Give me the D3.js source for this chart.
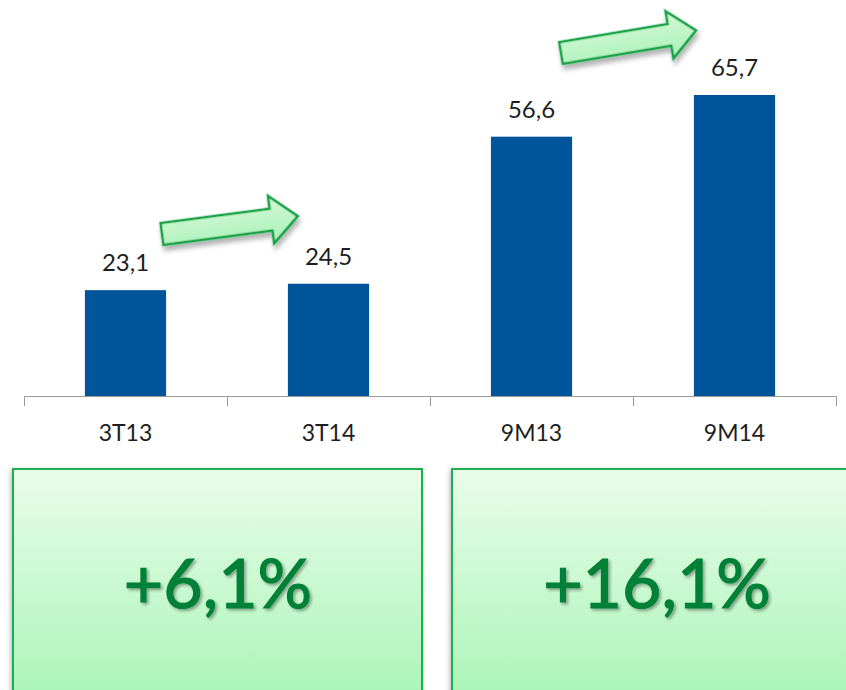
<!DOCTYPE html>
<html>
<head>
<meta charset="utf-8">
<script src="https://cdn.jsdelivr.net/npm/d3@7"></script>
<style>
  body { margin: 0; background: #fff; }
  svg { display: block; font-family: Lato, "Open Sans", sans-serif; }
</style>
</head>
<body>
<svg></svg>
<script>
var categories = ["3T13", "3T14", "9M13", "9M14"];
var values = [23.1, 24.5, 56.6, 65.7];
var valueLabels = ["23,1", "24,5", "56,6", "65,7"];
var growthLabels = ["+6,1%", "+16,1%"];

var svgWidth = 846, svgHeight = 690;
var baseY = 396;

var svg = d3.select("svg")
    .attr("width", svgWidth)
    .attr("height", svgHeight);

var defs = svg.append("defs");

// gradients + shadows
var boxGrad = defs.append("linearGradient").attr("id", "boxGrad")
    .attr("x1", 0).attr("y1", 0).attr("x2", 0).attr("y2", 1);
boxGrad.append("stop").attr("offset", "0%").attr("stop-color", "#e9fde9");
boxGrad.append("stop").attr("offset", "100%").attr("stop-color", "#a2f3b2");

var arrowGrad = defs.append("linearGradient").attr("id", "arrowGrad")
    .attr("x1", 0).attr("y1", 0).attr("x2", 0).attr("y2", 1);
arrowGrad.append("stop").attr("offset", "0%").attr("stop-color", "#d4f9d6");
arrowGrad.append("stop").attr("offset", "100%").attr("stop-color", "#a8f0b6");

defs.append("filter").attr("id", "boxShadow")
    .attr("x", "-10%").attr("y", "-10%").attr("width", "120%").attr("height", "130%")
  .append("feDropShadow")
    .attr("dx", -1).attr("dy", 2).attr("stdDeviation", 2.5)
    .attr("flood-color", "#000").attr("flood-opacity", 0.3);

defs.append("filter").attr("id", "arrowShadow")
    .attr("x", "-20%").attr("y", "-40%").attr("width", "140%").attr("height", "200%")
  .append("feDropShadow")
    .attr("dx", 1).attr("dy", 5).attr("stdDeviation", 2.5)
    .attr("flood-color", "#000").attr("flood-opacity", 0.3);

defs.append("filter").attr("id", "textShadow")
    .attr("x", "-10%").attr("y", "-10%").attr("width", "130%").attr("height", "140%")
  .append("feDropShadow")
    .attr("dx", 2).attr("dy", 2).attr("stdDeviation", 1.5)
    .attr("flood-color", "#000").attr("flood-opacity", 0.35);

// scales
var xBand = d3.scaleBand()
    .domain(categories)
    .range([24, 836])
    .paddingInner(0.6)
    .paddingOuter(0.3);

var xTick = d3.scaleBand()
    .domain(categories)
    .range([24, 836])
    .padding(0);

var y = d3.scaleLinear()
    .domain([0, 65.7])
    .range([baseY, 95]);

// bars
svg.selectAll("rect.bar")
    .data(values)
    .enter()
    .append("rect")
    .attr("class", "bar")
    .attr("x", function(d, i) { return xBand(categories[i]); })
    .attr("y", function(d) { return y(d); })
    .attr("width", xBand.bandwidth())
    .attr("height", function(d) { return baseY - y(d); })
    .attr("fill", "#00549a");

// value labels
svg.selectAll("text.val")
    .data(values)
    .enter()
    .append("text")
    .attr("class", "val")
    .attr("x", function(d, i) { return xBand(categories[i]) + xBand.bandwidth() / 2; })
    .attr("y", function(d) { return y(d) - 19; })
    .attr("text-anchor", "middle")
    .attr("font-size", 24)
    .attr("fill", "#1e1e1e")
    .text(function(d, i) { return valueLabels[i]; });

// axis line + ticks at band edges
var axisG = svg.append("g");
axisG.append("line")
    .attr("x1", xTick.range()[0]).attr("x2", xTick.range()[1])
    .attr("y1", baseY + 0.5).attr("y2", baseY + 0.5)
    .attr("stroke", "#9a9a9a");

var edges = categories.map(function(c) { return xTick(c); }).concat([xTick.range()[1]]);
axisG.selectAll("line.tick")
    .data(edges)
    .enter()
    .append("line")
    .attr("class", "tick")
    .attr("x1", function(d) { return Math.round(d) + 0.5; })
    .attr("x2", function(d) { return Math.round(d) + 0.5; })
    .attr("y1", baseY).attr("y2", baseY + 10)
    .attr("stroke", "#9a9a9a");

axisG.selectAll("text.cat")
    .data(categories)
    .enter()
    .append("text")
    .attr("class", "cat")
    .attr("x", function(d) { return xTick(d) + xTick.bandwidth() / 2; })
    .attr("y", 441)
    .attr("text-anchor", "middle")
    .attr("font-size", 23)
    .attr("fill", "#1e1e1e")
    .text(function(d) { return d; });

// growth arrows (block arrows drawn in local coords, tail at 0,0)
var L = 137, shaftH = 11, headH = 24, headL = 27;
var arrowPath = "M0," + (-shaftH) +
    "L" + (L - headL) + "," + (-shaftH) +
    "L" + (L - headL) + "," + (-headH) +
    "L" + L + ",0" +
    "L" + (L - headL) + "," + headH +
    "L" + (L - headL) + "," + shaftH +
    "L0," + shaftH + "Z";

var arrows = [
  { x: 162, y: 234, a: -7.5 },
  { x: 561, y: 53, a: -9.5 }
];

svg.selectAll("path.arrow")
    .data(arrows)
    .enter()
    .append("path")
    .attr("class", "arrow")
    .attr("d", arrowPath)
    .attr("transform", function(d) { return "translate(" + d.x + "," + d.y + ") rotate(" + d.a + ")"; })
    .attr("fill", "url(#arrowGrad)")
    .attr("stroke", "#12a245")
    .attr("stroke-width", 2.5)
    .attr("stroke-linejoin", "miter")
    .attr("filter", "url(#arrowShadow)");

// growth boxes
var boxes = [
  { x: 13, w: 409 },
  { x: 452, w: 409 }
];

var boxG = svg.selectAll("g.box")
    .data(boxes)
    .enter()
    .append("g")
    .attr("class", "box");

boxG.append("rect")
    .attr("x", function(d) { return d.x; })
    .attr("y", 469)
    .attr("width", function(d) { return d.w; })
    .attr("height", 260)
    .attr("fill", "url(#boxGrad)")
    .attr("stroke", "#1fae50")
    .attr("stroke-width", 2)
    .attr("filter", "url(#boxShadow)");

boxG.append("text")
    .attr("x", function(d) { return d.x + 205; })
    .attr("y", 608)
    .attr("text-anchor", "middle")
    .attr("font-size", 68)
    .attr("fill", "#008037")
    .attr("stroke", "#008037")
    .attr("stroke-width", 1.2)
    .attr("filter", "url(#textShadow)")
    .text(function(d, i) { return growthLabels[i]; });
</script>
</body>
</html>
